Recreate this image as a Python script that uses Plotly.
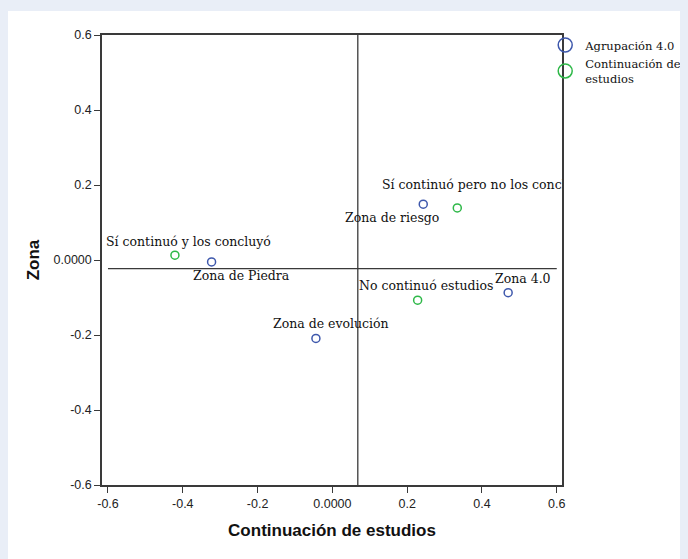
import plotly.graph_objects as go

# ---- data ----
zona_labels = ["Zona de Piedra", "Zona de riesgo", "Zona de evolución", "Zona 4.0"]
zona_x = [-0.323, 0.243, -0.044, 0.470]
zona_y = [-0.005, 0.149, -0.209, -0.087]

estudios_labels = ["Sí continuó y los concluyó", "Sí continuó pero no los concluyó", "No continuó estudios"]
estudios_x = [-0.421, 0.334, 0.228]
estudios_y = [0.013, 0.139, -0.107]

ref_x = 0.068      # vertical reference line
ref_y = -0.023     # horizontal reference line

x_tickvals = [-0.6, -0.4, -0.2, 0.0, 0.2, 0.4, 0.6]
x_ticktext = ["-0.6", "-0.4", "-0.2", "0.0000", "0.2", "0.4", "0.6"]
y_tickvals = [-0.6, -0.4, -0.2, 0.0, 0.2, 0.4, 0.6]
y_ticktext = ["-0.6", "-0.4", "-0.2", "0.0000", "0.2", "0.4", "0.6"]

series_names = ["Agrupación 4.0", "Continuación de<br>estudios"]

# ---- styles ----
BLUE = "#3e58ac"
GREEN = "#2eb848"
AXC = "#3a3a3a"
FRAME_BG = "#e9eef7"
SERIF = "DejaVu Serif"
SANS = "Liberation Sans, Arial, sans-serif"
LBL = dict(family=SERIF, size=12.5, color="#111111")

# label offsets (pixels): (xshift, yshift, xanchor, width)
zona_off = [(30, -14, "center", None), (-31, -13, "center", None),
            (15, 15, "center", None), (15, 14, "center", None)]
est_off = [(14, 14, "center", None), (-77, 23, "left", 180), (8, 15, "center", None)]

fig = go.Figure()

fig.add_trace(go.Scatter(
    x=zona_x, y=zona_y, mode="markers", showlegend=False,
    marker=dict(symbol="circle-open", size=8, color=BLUE, line=dict(width=1.5, color=BLUE)),
    hovertext=zona_labels, hoverinfo="text"))
fig.add_trace(go.Scatter(
    x=estudios_x, y=estudios_y, mode="markers", showlegend=False,
    marker=dict(symbol="circle-open", size=8, color=GREEN, line=dict(width=1.5, color=GREEN)),
    hovertext=estudios_labels, hoverinfo="text"))

# legend entries
for name, col in zip(series_names, [BLUE, GREEN]):
    fig.add_trace(go.Scatter(
        x=[None], y=[None], mode="markers", name=name,
        marker=dict(symbol="circle-open", size=14, color=col, line=dict(width=1.5, color=col))))

annotations = []
for lbls, xs, ys, offs in [(zona_labels, zona_x, zona_y, zona_off),
                           (estudios_labels, estudios_x, estudios_y, est_off)]:
    for t, xv, yv, (dx, dy, anc, w) in zip(lbls, xs, ys, offs):
        a = dict(x=xv, y=yv, xref="x", yref="y", text=t, showarrow=False,
                 xshift=dx, yshift=dy, xanchor=anc, yanchor="middle", font=LBL)
        if w is not None:
            a["width"] = w
            a["align"] = "left"
        annotations.append(a)

shapes = [
    # thin light strip along the top
    dict(type="rect", xref="paper", yref="paper", x0=-1, x1=2, y0=1.0533, y1=2,
         fillcolor=FRAME_BG, line=dict(width=0), layer="below"),
    # reference lines
    dict(type="line", xref="x", yref="paper", x0=ref_x, x1=ref_x, y0=0, y1=1,
         line=dict(color=AXC, width=1.3)),
    dict(type="line", xref="x", yref="y", x0=x_tickvals[0], x1=x_tickvals[-1], y0=ref_y, y1=ref_y,
         line=dict(color=AXC, width=1.3)),
]

fig.update_layout(
    width=688, height=559,
    margin=dict(l=94, r=134, t=27, b=82, autoexpand=False),
    paper_bgcolor="white", plot_bgcolor="white",
    annotations=annotations, shapes=shapes,
    legend=dict(x=0.9635, y=1.01, xanchor="left", yanchor="top",
                bgcolor="rgba(0,0,0,0)", font=dict(family=SERIF, size=11.5, color="#111111"),
                tracegroupgap=0, itemclick=False),
    xaxis=dict(range=[-0.616, 0.614], tickvals=x_tickvals, ticktext=x_ticktext,
               showgrid=False, zeroline=False, showline=True, linecolor=AXC, linewidth=1.5,
               mirror=True, ticks="outside", ticklen=6, tickcolor=AXC, tickwidth=1.3,
               tickfont=dict(family=SANS, size=12.5, color="#222222"),
               title=dict(text="<b>Continuación de estudios</b>", standoff=14,
                          font=dict(family=SANS, size=17, color="#111111"))),
    yaxis=dict(range=[-0.6, 0.6], tickvals=y_tickvals, ticktext=y_ticktext,
               showgrid=False, zeroline=False, showline=True, linecolor=AXC, linewidth=1.5,
               mirror=True, ticks="outside", ticklen=6, tickcolor=AXC, tickwidth=1.3,
               tickfont=dict(family=SANS, size=12.5, color="#222222"),
               title=dict(text="<b>Zona</b>", standoff=10,
                          font=dict(family=SANS, size=17, color="#111111"))),
)

fig.write_html("out.html", post_script="document.body.style.background = '%s';" % FRAME_BG)
